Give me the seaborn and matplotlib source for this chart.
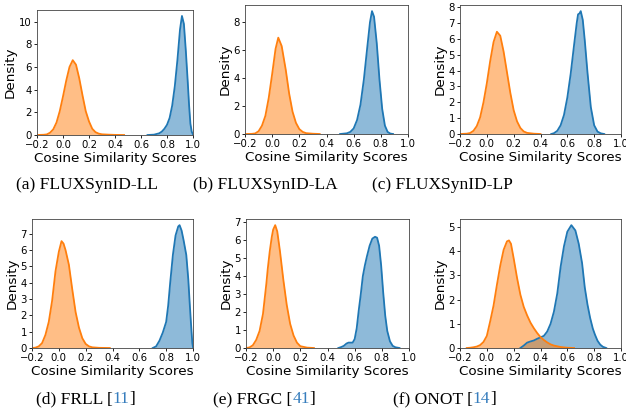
import matplotlib.pyplot as plt
import seaborn as sns

# genuine (blue) / imposter (orange) score densities
ll_gen_x = [0.65, 0.70, 0.74, 0.76, 0.78, 0.80, 0.82, 0.84, 0.86, 0.88, 0.90, 0.915, 0.93, 0.945, 0.96, 0.97, 0.98, 0.99, 1.0]
ll_gen_y = [0.0, 0.03, 0.15, 0.3, 0.55, 0.9, 1.5, 2.6, 4.3, 6.6, 9.3, 10.5, 9.8, 7.4, 4.6, 2.6, 1.0, 0.3, 0.05]
ll_imp_x = [-0.2, -0.15, -0.125, -0.1, -0.075, -0.05, -0.025, 0.0, 0.025, 0.05, 0.075, 0.1, 0.125, 0.15, 0.175, 0.2, 0.225, 0.25, 0.275, 0.3, 0.35, 0.4, 0.47]
ll_imp_y = [0.0, 0.02, 0.05, 0.2, 0.5, 1.1, 2.1, 3.4, 4.8, 6.0, 6.6, 6.2, 5.0, 3.5, 2.1, 1.2, 0.55, 0.25, 0.12, 0.06, 0.03, 0.01, 0.0]

la_gen_x = [0.5, 0.55, 0.575, 0.6, 0.625, 0.65, 0.675, 0.7, 0.72, 0.735, 0.75, 0.77, 0.79, 0.81, 0.83, 0.85, 0.87, 0.89]
la_gen_y = [0.0, 0.05, 0.15, 0.4, 1.0, 2.1, 3.9, 6.2, 8.0, 8.8, 8.4, 6.5, 3.9, 1.8, 0.6, 0.15, 0.03, 0.0]
la_imp_x = [-0.2, -0.15, -0.125, -0.1, -0.075, -0.05, -0.025, 0.0, 0.025, 0.045, 0.07, 0.1, 0.125, 0.15, 0.175, 0.2, 0.225, 0.25, 0.3, 0.35]
la_imp_y = [0.0, 0.01, 0.04, 0.2, 0.6, 1.3, 2.6, 4.3, 6.1, 6.9, 6.3, 4.6, 2.9, 1.6, 0.8, 0.35, 0.15, 0.06, 0.02, 0.0]

lp_gen_x = [0.48, 0.5, 0.525, 0.55, 0.575, 0.6, 0.625, 0.65, 0.67, 0.68, 0.69, 0.7, 0.715, 0.73, 0.75, 0.775, 0.8, 0.825, 0.85, 0.875]
lp_gen_y = [0.0, 0.05, 0.2, 0.55, 1.2, 2.3, 3.8, 5.6, 7.0, 7.55, 7.6, 7.75, 7.2, 5.9, 3.9, 1.7, 0.55, 0.15, 0.04, 0.0]
lp_imp_x = [-0.2, -0.15, -0.125, -0.1, -0.075, -0.05, -0.025, 0.0, 0.025, 0.05, 0.075, 0.1, 0.125, 0.15, 0.175, 0.2, 0.225, 0.25, 0.275, 0.3, 0.35, 0.4]
lp_imp_y = [0.0, 0.02, 0.06, 0.2, 0.5, 1.05, 2.0, 3.2, 4.6, 5.8, 6.45, 6.2, 5.2, 3.9, 2.6, 1.5, 0.8, 0.38, 0.16, 0.07, 0.02, 0.0]

frll_gen_x = [0.7, 0.725, 0.75, 0.775, 0.8, 0.815, 0.83, 0.85, 0.87, 0.89, 0.9, 0.915, 0.93, 0.95, 0.965, 0.975, 0.985, 0.995, 1.0]
frll_gen_y = [0.0, 0.1, 0.45, 0.95, 1.6, 2.6, 4.0, 5.7, 6.9, 7.45, 7.53, 7.2, 6.6, 5.7, 4.2, 2.8, 1.5, 0.3, 0.05]
frll_imp_x = [-0.2, -0.175, -0.15, -0.125, -0.1, -0.075, -0.05, -0.025, 0.0, 0.02, 0.035, 0.05, 0.075, 0.1, 0.125, 0.15, 0.175, 0.2, 0.225, 0.25, 0.3, 0.38]
frll_imp_y = [0.0, 0.02, 0.1, 0.3, 0.8, 1.6, 2.9, 4.7, 5.9, 6.55, 6.4, 6.0, 5.1, 3.6, 2.2, 1.25, 0.6, 0.25, 0.1, 0.04, 0.01, 0.0]

frgc_gen_x = [0.48, 0.5, 0.52, 0.54, 0.555, 0.57, 0.585, 0.6, 0.615, 0.63, 0.645, 0.66, 0.675, 0.69, 0.71, 0.73, 0.75, 0.765, 0.78, 0.795, 0.81, 0.825, 0.84, 0.86, 0.88, 0.9, 0.93]
frgc_gen_y = [0.0, 0.05, 0.12, 0.25, 0.3, 0.3, 0.3, 0.5, 1.1, 2.1, 3.0, 4.0, 4.6, 5.1, 5.7, 6.1, 6.2, 6.15, 5.7, 4.6, 3.1, 1.8, 0.95, 0.37, 0.12, 0.04, 0.0]
frgc_imp_x = [-0.2, -0.175, -0.15, -0.125, -0.1, -0.075, -0.05, -0.04, -0.025, -0.01, 0.0, 0.015, 0.03, 0.05, 0.075, 0.1, 0.125, 0.15, 0.175, 0.2, 0.25, 0.3]
frgc_imp_y = [0.0, 0.03, 0.15, 0.45, 0.95, 1.9, 3.6, 4.4, 5.4, 6.2, 6.6, 6.85, 6.5, 5.4, 3.8, 2.4, 1.35, 0.7, 0.3, 0.1, 0.02, 0.0]

onot_gen_x = [0.25, 0.275, 0.3, 0.325, 0.35, 0.375, 0.4, 0.425, 0.45, 0.475, 0.5, 0.525, 0.55, 0.575, 0.6, 0.63, 0.66, 0.685, 0.71, 0.73, 0.75, 0.77, 0.79, 0.806, 0.825, 0.845, 0.865, 0.89]
onot_gen_y = [0.0, 0.1, 0.22, 0.27, 0.31, 0.38, 0.44, 0.5, 0.68, 1.0, 1.5, 2.25, 3.35, 4.2, 4.8, 5.07, 4.85, 4.3, 3.5, 2.5, 1.8, 1.24, 0.8, 0.55, 0.3, 0.14, 0.05, 0.0]
onot_imp_x = [-0.15, -0.125, -0.1, -0.075, -0.05, -0.025, 0.0, 0.025, 0.05, 0.075, 0.1, 0.125, 0.15, 0.165, 0.18, 0.2, 0.225, 0.25, 0.275, 0.3, 0.325, 0.35, 0.375, 0.4, 0.425, 0.45, 0.475, 0.5, 0.55, 0.6, 0.65]
onot_imp_y = [0.0, 0.01, 0.03, 0.06, 0.12, 0.25, 0.5, 1.1, 1.75, 2.6, 3.4, 4.05, 4.4, 4.44, 4.3, 3.7, 2.9, 2.2, 1.7, 1.35, 1.05, 0.82, 0.62, 0.45, 0.33, 0.23, 0.15, 0.1, 0.04, 0.01, 0.0]

x_ticks = [-0.2, 0.0, 0.2, 0.4, 0.6, 0.8, 1.0]
y_ticks = [
    [0, 2, 4, 6, 8, 10],
    [0, 2, 4, 6, 8],
    [0, 1, 2, 3, 4, 5, 6, 7, 8],
    [0, 1, 2, 3, 4, 5, 6, 7],
    [0, 1, 2, 3, 4, 5, 6, 7],
    [0, 1, 2, 3, 4, 5],
]
captions = [
    [("(a) FLUXSynID-LL", "black")],
    [("(b) FLUXSynID-LA", "black")],
    [("(c) FLUXSynID-LP", "black")],
    [("(d) FRLL [", "black"), ("11", "#367dbd"), ("]", "black")],
    [("(e) FRGC [", "black"), ("41", "#367dbd"), ("]", "black")],
    [("(f) ONOT [", "black"), ("14", "#367dbd"), ("]", "black")],
]
curves = [
    (ll_gen_x, ll_gen_y, ll_imp_x, ll_imp_y),
    (la_gen_x, la_gen_y, la_imp_x, la_imp_y),
    (lp_gen_x, lp_gen_y, lp_imp_x, lp_imp_y),
    (frll_gen_x, frll_gen_y, frll_imp_x, frll_imp_y),
    (frgc_gen_x, frgc_gen_y, frgc_imp_x, frgc_imp_y),
    (onot_gen_x, onot_gen_y, onot_imp_x, onot_imp_y),
]

W, H = 626, 413
# axes boxes in pixels: left, top, right, bottom
boxes = [
    (37, 10, 193, 135),
    (245, 5, 408, 134),
    (460, 5, 621, 134),
    (32, 219, 193, 348),
    (246, 219, 409, 348),
    (460, 219, 621, 348),
]
# caption left edge and vertical centre, pixels
caption_pos = [(16, 185), (193, 185), (372, 185), (36, 399), (213, 399), (393, 399)]

BLUE = "#1f77b4"
ORANGE = "#ff7f0e"


def draw_density(ax, xs, ys, color):
    sns.lineplot(x=xs, y=ys, ax=ax, color=color, lw=1.3, legend=False)
    ax.fill_between(xs, ys, color=color, alpha=0.5, lw=0)


fig = plt.figure(figsize=(W / 100, H / 100), dpi=100)

for i, (gx, gy, ix, iy) in enumerate(curves):
    l, t, r, b = boxes[i]
    ax = fig.add_axes([l / W, 1 - b / H, (r - l) / W, (b - t) / H])
    draw_density(ax, gx, gy, BLUE)
    draw_density(ax, ix, iy, ORANGE)
    ax.set_xlim(-0.2, 1.0)
    ax.set_ylim(bottom=0)
    ax.set_xticks(x_ticks)
    ax.set_yticks(y_ticks[i])
    ax.tick_params(labelsize=7.3, length=2.2, width=0.6, pad=1.5)
    for sp in ax.spines.values():
        sp.set_linewidth(0.6)
        sp.set_color("#444444")
    ax.set_xlabel("Cosine Similarity Scores", fontsize=9.7, labelpad=1)
    ax.set_ylabel("Density", fontsize=9.7, labelpad=1.5)

    # caption, pieces chained so the citation can be coloured
    cx, cy = caption_pos[i]
    prev = None
    for text, color in captions[i]:
        kw = dict(fontsize=12.5, family="Liberation Serif", color=color,
                  annotation_clip=False)
        if prev is None:
            prev = ax.annotate(text, xy=(cx / W, 1 - cy / H), xycoords="figure fraction",
                               ha="left", va="center", **kw)
        else:
            prev = ax.annotate(text, xy=(1, 0), xycoords=prev,
                               ha="left", va="bottom", **kw)

fig.savefig("out.png", dpi=100)
